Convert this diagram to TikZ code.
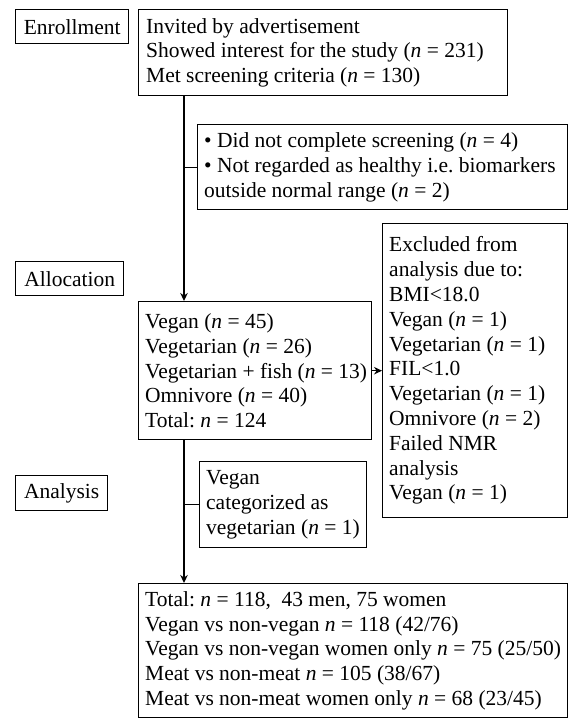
\documentclass[tikz,border=0pt]{standalone}
\usepackage{fontspec}
\setmainfont{Liberation Serif}
\usetikzlibrary{arrows.meta,positioning}
\newcommand{\nn}{\textit{n}}

\begin{document}
\begin{tikzpicture}[x=1pt,y=-1pt,node distance=0mm,
	every node/.style={font=\fontsize{21.5}{24.8}\selectfont\frenchspacing},
	fase/.style={draw,rectangle,line width=1.4pt,minimum height=34pt,inner sep=0pt,anchor=north west},
	blocco/.style={draw,rectangle,line width=1.4pt,inner sep=0pt,anchor=north west},
	testo/.style={align=left,inner sep=0pt,anchor=west},
	freccia/.style={line width=1.4pt,-{Stealth[length=8pt,width=7.5pt]}}]
				\useasboundingbox (0,0) rectangle (569,720);
				
				% Fasi a sinistra
				\node[fase,minimum width=113pt] (enr) at (15,9) {Enrollment};
				\node[fase,minimum width=108pt] (alloc) at (15,261) {Allocation};
				\node[fase,minimum width=92pt,minimum height=35pt] (anl) at (15,475) {Analysis};
				
				% Reclutamento
				\node[blocco,minimum width=369pt,minimum height=86pt] (scr) at (138,9) {};
				\node[testo,right=8pt of scr.west] (scrtxt) {
					Invited by advertisement\\
					Showed interest for the study (\nn{} = 231)\\
					Met screening criteria (\nn{} = 130)
				};
				\node[blocco,minimum width=370pt,minimum height=85pt] (excl) at (197,124) {};
				\node[testo,right=7pt of excl.west] (excltxt) {
					\textbullet{} Did not complete screening (\nn{} = 4)\\
					\textbullet{} Not regarded as healthy i.e. biomarkers\\
					outside normal range (\nn{} = 2)
				};
				
				% Gruppi di dieta
				\node[blocco,minimum width=233pt,minimum height=138pt] (diet) at (138,301) {};
				\node[testo,right=7pt of diet.west] (diettxt) {
					Vegan (\nn{} = 45)\\
					Vegetarian (\nn{} = 26)\\
					Vegetarian + fish (\nn{} = 13)\\
					Omnivore (\nn{} = 40)\\
					Total: \nn{} = 124
				};
				\node[blocco,minimum width=185pt,minimum height=294pt] (drop) at (382,223) {};
				\node[testo,right=7pt of drop.west] (droptxt) {
					Excluded from\\
					analysis due to:\\
					BMI<18.0\\
					Vegan (\nn{} = 1)\\
					Vegetarian (\nn{} = 1)\\
					FIL<1.0\\
					Vegetarian (\nn{} = 1)\\
					Omnivore (\nn{} = 2)\\
					Failed NMR\\
					analysis\\
					Vegan (\nn{} = 1)
				};
				
				% Analisi
				\node[blocco,minimum width=167pt,minimum height=86pt] (recat) at (199,461) {};
				\node[testo,right=7pt of recat.west] (recattxt) {
					Vegan\\
					categorized as\\
					vegetarian (\nn{} = 1)
				};
				\node[blocco,minimum width=429pt,minimum height=134pt] (tot) at (138,583) {};
				\node[testo,right=7pt of tot.west] (tottxt) {
					Total: \nn{} = 118, \ 43 men, 75 women\\
					Vegan vs non-vegan \nn{} = 118 (42/76)\\
					Vegan vs non-vegan women only \nn{} = 75 (25/50)\\
					Meat vs non-meat \nn{} = 105 (38/67)\\
					Meat vs non-meat women only \nn{} = 68 (23/45)
				};
				
				% Linee e frecce
				\coordinate (trunk) at (184,0);
				\draw[freccia] (scr.south -| trunk) -- (diet.north -| trunk);
				\draw[line width=1.4pt] (trunk |- excl.west) -- (excl.west);
				\draw[freccia] (diet.east) -- (diet.east -| drop.west);
				\draw[freccia] (diet.south -| trunk) -- (tot.north -| trunk);
				\draw[line width=1.4pt] (trunk |- recat.west) -- (recat.west);
			\end{tikzpicture}
\end{document}
